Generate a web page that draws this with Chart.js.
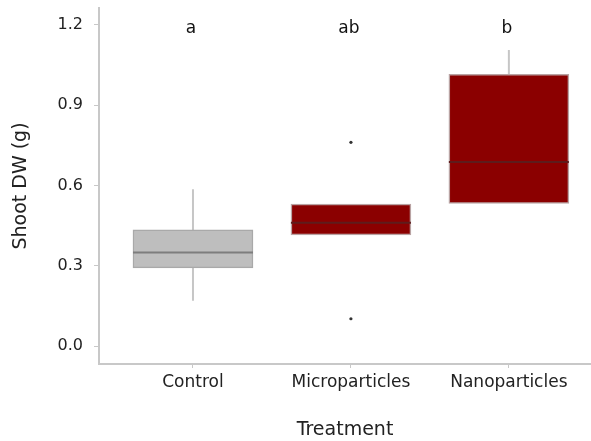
<!DOCTYPE html>
<html>
<head>
<meta charset="utf-8">
<script src="https://cdn.jsdelivr.net/npm/chart.js@4"></script>
<style>
  html, body { margin: 0; padding: 0; background: #fff; }
  #wrap { width: 591px; height: 441px; }
</style>
</head>
<body>
<div id="wrap"><canvas id="chart"></canvas></div>
<script>
// box plot summary per treatment
const treatments = ['Control', 'Microparticles', 'Nanoparticles'];
const positions = [1, 2, 3];
const whiskerLow = [0.169, 0.415, 0.533];
const q1 = [0.292, 0.415, 0.533];
const medians = [0.350, 0.461, 0.688];
const q3 = [0.434, 0.530, 1.015];
const whiskerHigh = [0.586, 0.530, 1.106];
const outlierX = [2, 2];
const outlierY = [0.761, 0.102];
const letters = ['a', 'ab', 'b'];
const letterY = 1.185;

const boxFill = ['#bebebe', '#8b0000', '#8b0000'];
const boxBorder = ['#a9a9a9', '#b9a3a3', '#b9a3a3'];
const medianColor = ['#7d7d7d', '#5e1c1c', '#5e1c1c'];

const font = 'DejaVu Sans';

const boxExtras = {
    id: 'boxExtras',
    beforeDatasetsDraw(chart) {
        const ctx = chart.ctx;
        const x = chart.scales.x, y = chart.scales.y;
        ctx.save();
        ctx.strokeStyle = '#c6c6c6';
        ctx.lineWidth = 2;
        positions.forEach((p, i) => {
            const px = x.getPixelForValue(p);
            ctx.beginPath();
            ctx.moveTo(px, y.getPixelForValue(whiskerHigh[i]));
            ctx.lineTo(px, y.getPixelForValue(q3[i]));
            ctx.moveTo(px, y.getPixelForValue(q1[i]));
            ctx.lineTo(px, y.getPixelForValue(whiskerLow[i]));
            ctx.stroke();
        });
        ctx.restore();
    },
    afterDatasetsDraw(chart) {
        const ctx = chart.ctx;
        const x = chart.scales.x, y = chart.scales.y;
        const bars = chart.getDatasetMeta(0).data;
        ctx.save();
        positions.forEach((p, i) => {
            const px = x.getPixelForValue(p);
            const half = bars[i].width / 2;
            const my = y.getPixelForValue(medians[i]);
            ctx.strokeStyle = medianColor[i];
            ctx.lineWidth = 2;
            ctx.beginPath();
            ctx.moveTo(px - half, my);
            ctx.lineTo(px + half, my);
            ctx.stroke();

            ctx.fillStyle = '#111';
            ctx.font = '17px "' + font + '"';
            ctx.textAlign = 'center';
            ctx.textBaseline = 'middle';
            ctx.fillText(letters[i], px - 2, y.getPixelForValue(letterY));
        });
        ctx.restore();
    }
};

new Chart(document.getElementById('chart'), {
    type: 'bar',
    data: {
        datasets: [
            {
                type: 'bar',
                data: positions.map((p, i) => ({ x: p, y: [q1[i], q3[i]] })),
                backgroundColor: boxFill,
                borderColor: boxBorder,
                borderWidth: 1.5,
                borderSkipped: false,
                barThickness: 120,
                grouped: false
            },
            {
                type: 'scatter',
                data: outlierX.map((p, i) => ({ x: p, y: outlierY[i] })),
                backgroundColor: '#333',
                borderColor: '#333',
                pointRadius: 1.6,
                borderWidth: 0
            }
        ]
    },
    options: {
        responsive: true,
        maintainAspectRatio: false,
        animation: false,
        layout: { autoPadding: false, padding: { top: 8, right: 0, left: 0, bottom: 0 } },
        plugins: {
            legend: { display: false },
            tooltip: { enabled: false }
        },
        scales: {
            x: {
                type: 'linear',
                offset: false,
                min: 0.405,
                max: 3.52,
                afterFit(s) { s.height = 77; s.paddingLeft = 0; s.paddingRight = 0; },
                border: { color: '#c8c8c8', width: 2 },
                grid: { offset: false, drawOnChartArea: false, color: '#c8c8c8', tickLength: 4 },
                ticks: {
                    stepSize: 1,
                    includeBounds: false,
                    maxRotation: 0,
                    padding: 4,
                    color: '#222',
                    font: { family: font, size: 17 },
                    callback: v => treatments[v - 1] || ''
                },
                title: {
                    display: true,
                    text: 'Treatment',
                    color: '#222',
                    font: { family: font, size: 19 },
                    padding: { top: 0, bottom: 0 }
                }
            },
            y: {
                min: -0.067,
                max: 1.263,
                afterFit(s) { s.width = 99; s.paddingTop = 0; s.paddingBottom = 0; },
                border: { color: '#c8c8c8', width: 2 },
                grid: { drawOnChartArea: false, color: '#c8c8c8', tickLength: 5 },
                ticks: {
                    stepSize: 0.3,
                    includeBounds: false,
                    padding: 11,
                    color: '#222',
                    font: { family: font, size: 16 },
                    callback: v => v.toFixed(1)
                },
                title: {
                    display: true,
                    text: 'Shoot DW (g)',
                    color: '#222',
                    font: { family: font, size: 19 },
                    padding: { top: 10, bottom: 0 }
                }
            }
        }
    },
    plugins: [boxExtras]
});
</script>
</body>
</html>
